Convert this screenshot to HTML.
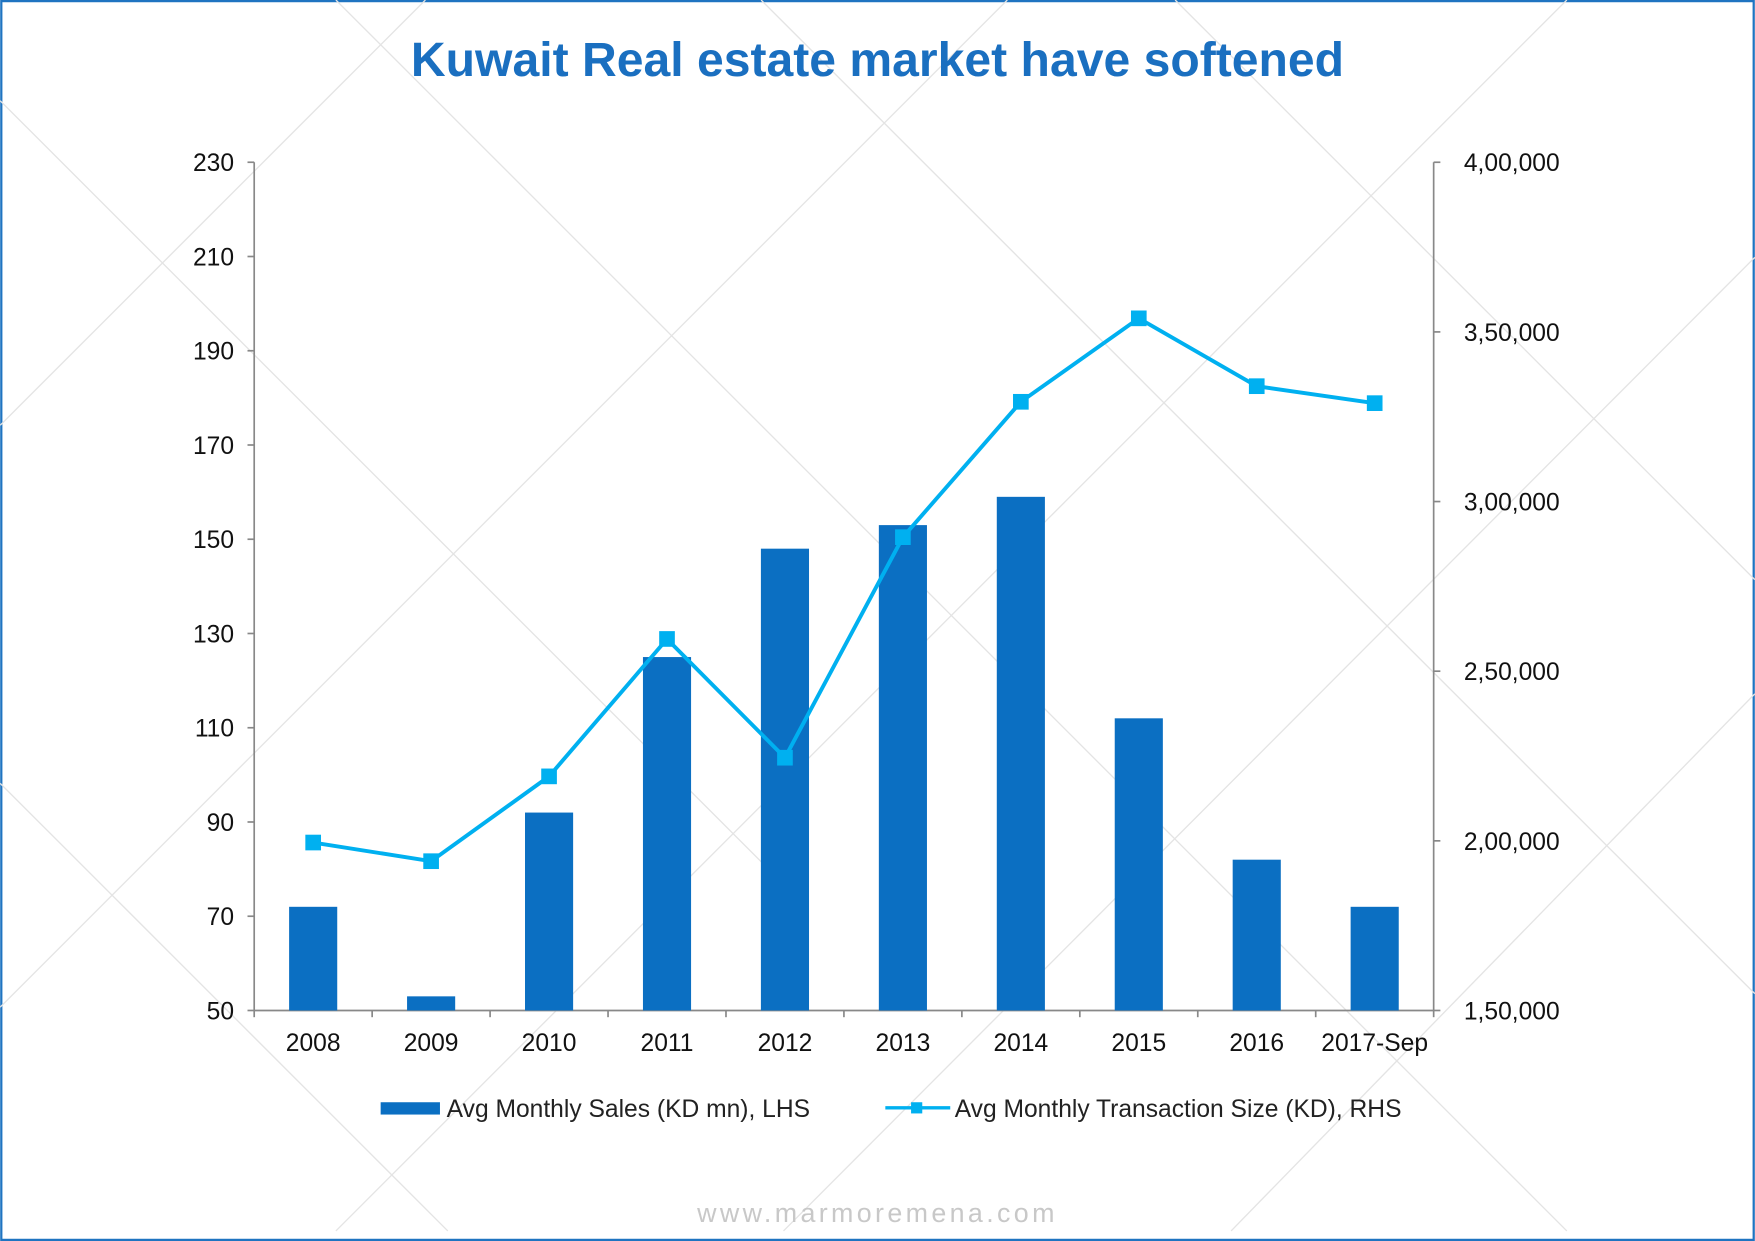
<!DOCTYPE html>
<html><head><meta charset="utf-8"><style>
html,body{margin:0;padding:0;background:#fff}
svg{display:block}
text{font-family:"Liberation Sans",sans-serif}
</style></head><body>
<svg id="chart" width="1755" height="1241" viewBox="0 0 1568 1109" xmlns="http://www.w3.org/2000/svg">
<rect x="1" y="1" width="1566" height="1107" fill="#fff" stroke="#1f74c1" stroke-width="2"/>
<g id="wm" stroke="#e4e4e4" stroke-width="1.2" fill="none">
<line x1="0" y1="90" x2="700" y2="790"/><line x1="300" y1="0" x2="1400" y2="1100"/>
<line x1="680" y1="0" x2="1568" y2="888"/><line x1="1050" y1="0" x2="1568" y2="518"/>
<line x1="0" y1="700" x2="400" y2="1100"/><line x1="380" y1="0" x2="0" y2="380"/>
<line x1="900" y1="0" x2="0" y2="900"/><line x1="1400" y1="0" x2="300" y2="1100"/>
<line x1="1568" y1="230" x2="700" y2="1100"/><line x1="1568" y1="620" x2="1100" y2="1100"/>
</g>
<text x="784" y="68" text-anchor="middle" font-size="43" font-weight="bold" fill="#1a6fc0">Kuwait Real estate market have softened</text>
<g id="axes"></g>
<g id="bars"></g>
<g id="line"></g>
<g>
<rect x="340" y="985" width="53" height="11" fill="#0b6fc2"/>
<text x="399" y="998" font-size="22" fill="#222">Avg Monthly Sales (KD mn), LHS</text>
<line x1="791" y1="990" x2="849" y2="990" stroke="#00b0f0" stroke-width="3"/>
<rect x="814" y="985" width="10" height="10" fill="#00b0f0"/>
<text x="853" y="998" font-size="22" fill="#222">Avg Monthly Transaction Size (KD), RHS</text>
</g>
<text x="784" y="1092" text-anchor="middle" font-size="24" letter-spacing="3" fill="#c8c8c8">www.marmoremena.com</text>
</svg>
<script>
const categories=["2008","2009","2010","2011","2012","2013","2014","2015","2016","2017-Sep"];
const salesValues=[72,53,92,125,148,153,159,112,82,72];
const txnValues=[199500,194000,219000,259500,224500,289500,329400,354000,334000,329000];
const leftTicks=[50,70,90,110,130,150,170,190,210,230];
const rightTicks=[150000,200000,250000,300000,350000,400000];
const rightTickLabels=["1,50,000","2,00,000","2,50,000","3,00,000","3,50,000","4,00,000"];
const NS="http://www.w3.org/2000/svg";
const X0=227,X1=1281,Y0=903,Y1=145;
const yL=v=>Y0-(v-50)/(230-50)*(Y0-Y1);
const yR=v=>Y0-(v-150000)/(400000-150000)*(Y0-Y1);
const bw=(X1-X0)/categories.length;
const xC=i=>X0+bw*(i+0.5);
function mk(tag,attrs,parent,txt){const e=document.createElementNS(NS,tag);for(const k in attrs)e.setAttribute(k,attrs[k]);if(txt!==undefined)e.textContent=txt;parent.appendChild(e);return e;}
const ax=document.getElementById('axes');
let e;
e=mk('line',{x1:X0,y1:Y1,x2:X0,y2:Y0,stroke:'#888','stroke-width':1.5},ax);


e=mk('line',{x1:X1,y1:Y1,x2:X1,y2:Y0,stroke:'#888','stroke-width':1.5},ax);


e=mk('line',{x1:X0,y1:Y0,x2:X1,y2:Y0,stroke:'#888','stroke-width':1.5},ax);


leftTicks.forEach(v=>{
 mk('line',{x1:X0-6,y1:yL(v),x2:X0,y2:yL(v),stroke:'#888','stroke-width':1.5},ax);
 e=mk('text',{x:X0-18,y:yL(v)+8,'text-anchor':'end','font-size':22,fill:'#111'},ax,String(v));
 
 
});
rightTicks.forEach((v,i)=>{
 mk('line',{x1:X1,y1:yR(v),x2:X1+6,y2:yR(v),stroke:'#888','stroke-width':1.5},ax);
 e=mk('text',{x:X1+27,y:yR(v)+8,'font-size':22,fill:'#111'},ax,rightTickLabels[i]);
 
 
});
categories.forEach((c,i)=>{
 mk('line',{x1:X0+bw*i,y1:Y0,x2:X0+bw*i,y2:Y0+6,stroke:'#888','stroke-width':1.5},ax);
 e=mk('text',{x:xC(i),y:Y0+36,'text-anchor':'middle','font-size':22,fill:'#111'},ax,c);
 
 
});
mk('line',{x1:X1,y1:Y0,x2:X1,y2:Y0+6,stroke:'#888','stroke-width':1.5},ax);
const bg=document.getElementById('bars');
salesValues.forEach((v,i)=>{
 e=mk('rect',{x:xC(i)-21.5,y:yL(v),width:43,height:Y0-yL(v),fill:'#0b6fc2'},bg);
 
 
});
const lg=document.getElementById('line');
e=mk('polyline',{points:txnValues.map((v,i)=>xC(i)+','+yR(v)).join(' '),fill:'none',stroke:'#00b0f0','stroke-width':3.5},lg);


txnValues.forEach((v,i)=>{
 e=mk('rect',{x:xC(i)-7,y:yR(v)-7,width:14,height:14,fill:'#00b0f0'},lg);
 
 
});
</script>
</body></html>
